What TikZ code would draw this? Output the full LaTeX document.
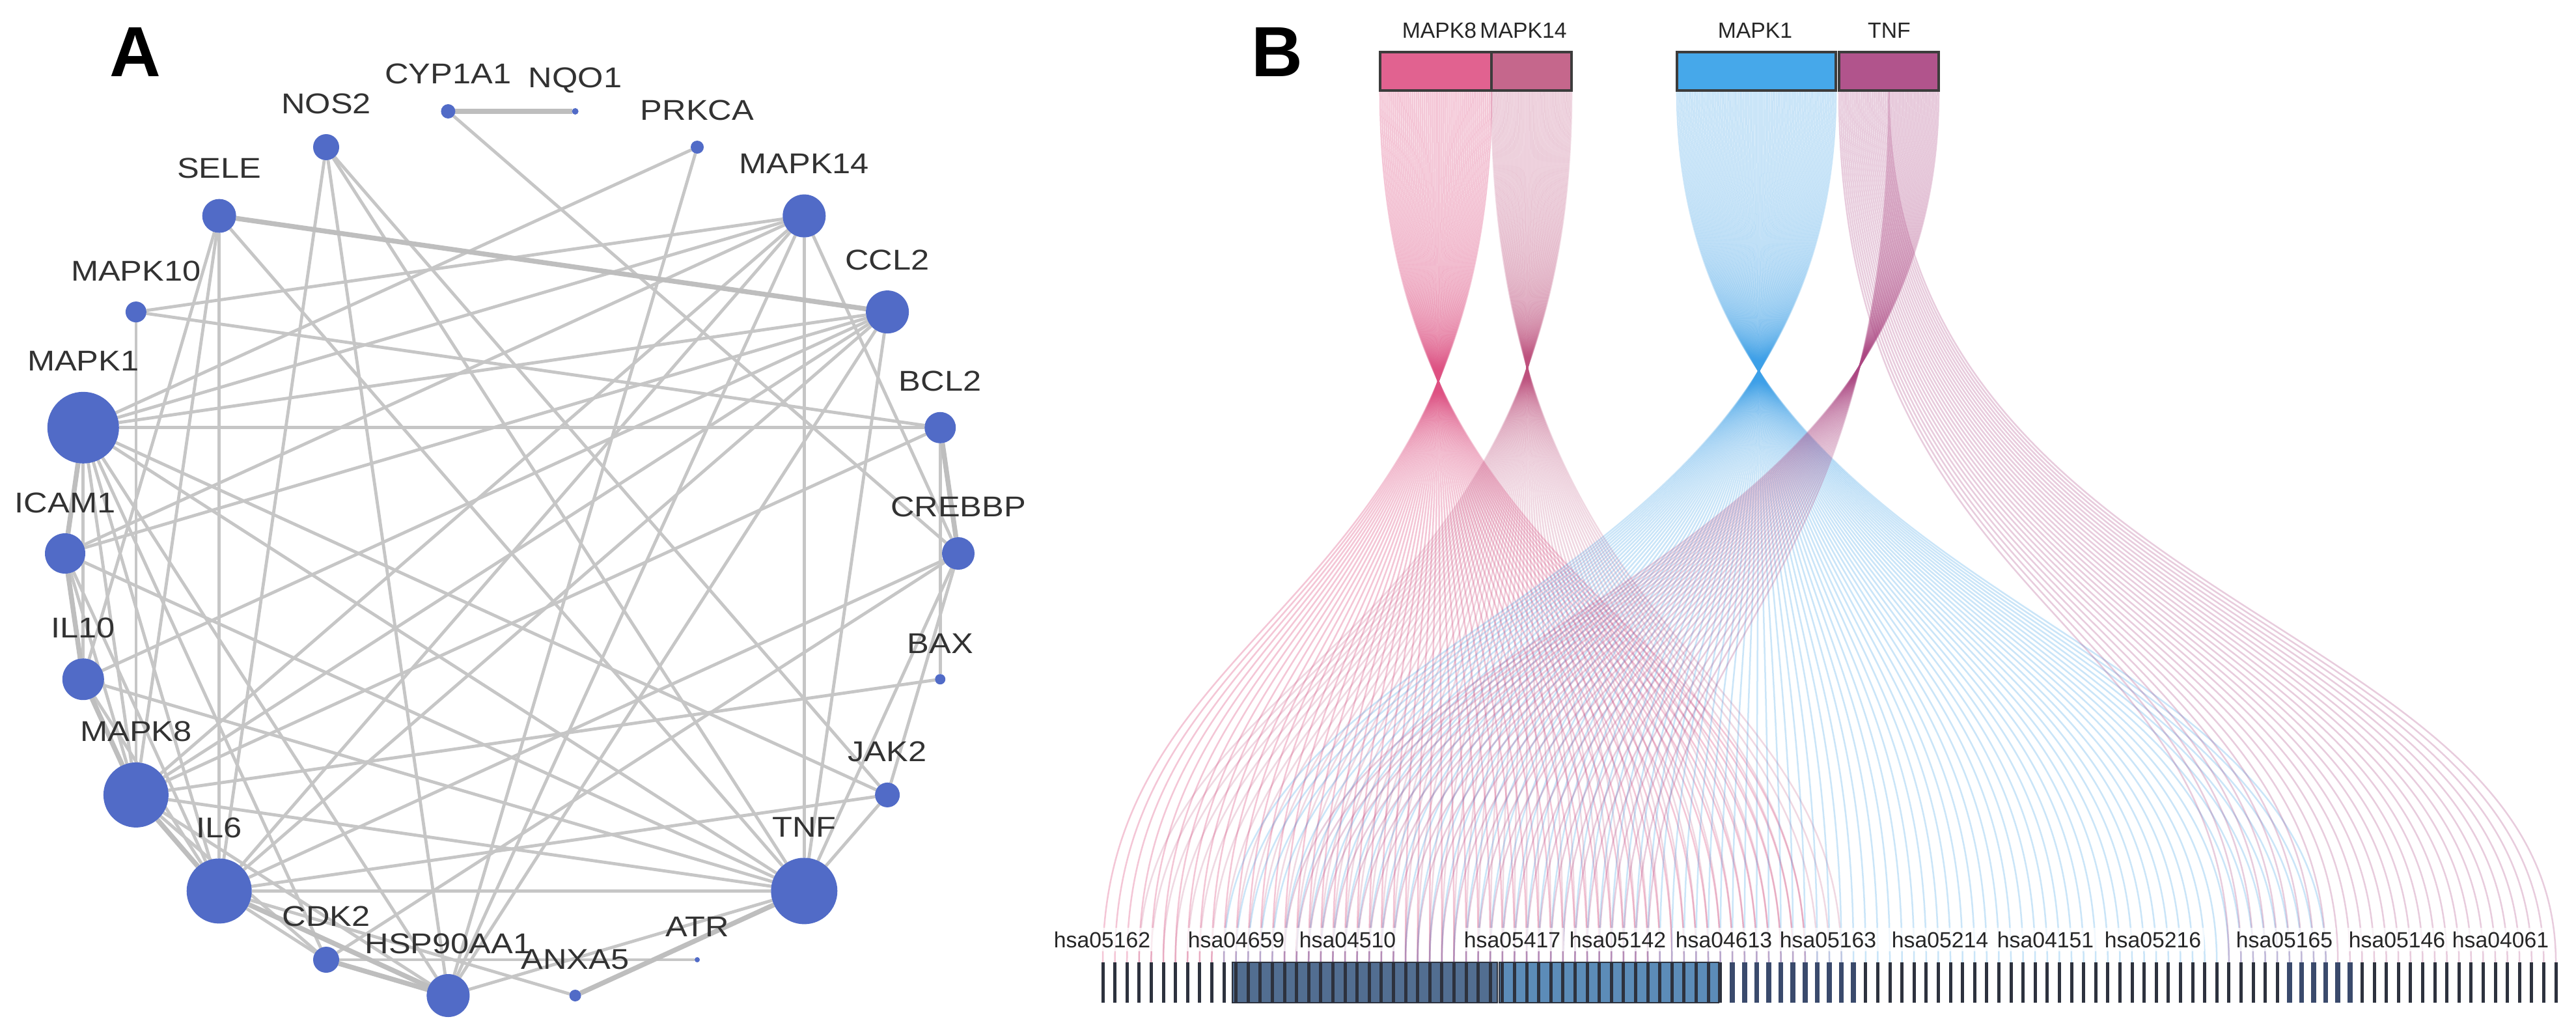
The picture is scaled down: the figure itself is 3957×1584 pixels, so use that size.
\documentclass[tikz,border=0pt]{standalone}
\usepackage{fontspec}
\setmainfont{Liberation Sans}
\usetikzlibrary{calc}
\definecolor{nodeblue}{RGB}{81,107,199}
\definecolor{edgegray}{RGB}{198,198,198}
\definecolor{labgray}{RGB}{50,50,50}
\definecolor{cEight}{RGB}{225,98,144}
\definecolor{cFourteen}{RGB}{197,103,140}
\definecolor{cOne}{RGB}{70,168,234}
\definecolor{cTnf}{RGB}{177,84,140}
\definecolor{sEight}{RGB}{222,80,130}
\definecolor{sFourteen}{RGB}{190,80,125}
\definecolor{sOne}{RGB}{60,160,232}
\definecolor{sTnf}{RGB}{172,70,130}
\definecolor{boxline}{RGB}{60,60,60}
\definecolor{barcol}{RGB}{45,50,62}
\definecolor{blockA}{RGB}{82,110,145}
\definecolor{blockB}{RGB}{92,140,184}
\definecolor{barnavy}{RGB}{58,74,108}
\pgfdeclarelayer{bg}
\pgfdeclarelayer{strand}
\pgfsetlayers{bg,strand,main}
\newcommand\mkgene[5]{%
  \node[gnode,minimum size={2*#4*0.01cm}] (#1) at (#2,#3) {};
  \node[glabel] (l#1) at (#2,{#3-#4-32}) {\scalebox{1.15}[1]{#5}};
}
\begin{document}
\begin{tikzpicture}[x=0.01cm,y=-0.01cm,
  gnode/.style={circle,fill=nodeblue,inner sep=0pt,outer sep=0pt},
  glabel/.style={anchor=base,font=\fontsize{12.5}{15}\selectfont,text=labgray,inner sep=0pt},
  edge/.style={draw=edgegray,line width=0.048cm},
  wedge/.style={draw=edgegray!96!black,line width=0.075cm},
  gbox/.style={draw=boxline,line width=0.04cm,inner sep=0pt,outer sep=0pt,minimum height=0.59cm},
  toplab/.style={anchor=base,font=\fontsize{9.6}{11}\selectfont,text=black!85,inner sep=0pt},
  hsalab/.style={anchor=base,font=\fontsize{9.6}{11}\selectfont,text=black!85,fill=white,fill opacity=0.75,text opacity=1,inner sep=1.5pt},
  panel/.style={anchor=base,font=\fontsize{31}{36}\selectfont\bfseries,text=black,inner sep=0pt},
  st8/.style={draw=sEight,draw opacity=0.32,line width=0.025cm},
  st14/.style={draw=sFourteen,draw opacity=0.22,line width=0.025cm},
  st1/.style={draw=sOne,draw opacity=0.27,line width=0.025cm},
  stT/.style={draw=sTnf,draw opacity=0.27,line width=0.025cm},
  pbar/.style={draw=barcol,line width=0.05cm},
  nbar/.style={draw=barnavy,line width=0.075cm}
]
\begin{pgfonlayer}{bg}
\fill[white] (0,0) rectangle (3957,1584);
\end{pgfonlayer}
\useasboundingbox (0,0) rectangle (3957,1584);

% ---------------- Panel A ----------------
\node[panel] (panelA) at (208,117) {A};
\mkgene{CYP}{688.4}{171.0}{11}{CYP1A1}
\mkgene{NOS}{501.0}{226.0}{20}{NOS2}
\mkgene{SELE}{336.7}{331.6}{26}{SELE}
\mkgene{MKten}{208.9}{479.1}{16}{MAPK10}
\mkgene{MKone}{127.8}{656.8}{55}{MAPK1}
\mkgene{ICAM}{100}{850}{31}{ICAM1}
\mkgene{ILten}{127.8}{1043.2}{32}{IL10}
\mkgene{MKeight}{208.9}{1220.9}{50}{MAPK8}
\mkgene{ILsix}{336.7}{1368.4}{50}{IL6}
\mkgene{CDK}{501.0}{1474.0}{20}{CDK2}
\mkgene{HSP}{688.4}{1529.0}{33}{HSP90AA1}
\mkgene{ANX}{883.6}{1529.0}{9}{ANXA5}
\mkgene{ATR}{1071.0}{1474.0}{4}{ATR}
\mkgene{TNF}{1235.3}{1368.4}{51}{TNF}
\mkgene{JAK}{1363.1}{1220.9}{19}{JAK2}
\mkgene{BAX}{1444.2}{1043.2}{8}{BAX}
\mkgene{CREB}{1472}{850}{25}{CREBBP}
\mkgene{BCL}{1444.2}{656.8}{24}{BCL2}
\mkgene{CCL}{1363.1}{479.1}{33}{CCL2}
\mkgene{MKfourteen}{1235.3}{331.6}{33}{MAPK14}
\mkgene{PRK}{1071.0}{226.0}{10}{PRKCA}
\mkgene{NQO}{883.6}{171.0}{5}{NQO1}

\begin{pgfonlayer}{bg}
\foreach \a/\b in {CYP/CREB,PRK/MKone,PRK/HSP,NOS/ILsix,NOS/HSP,NOS/TNF,NOS/JAK,
  SELE/ILsix,SELE/TNF,SELE/ILten,SELE/MKeight,MKten/MKfourteen,MKten/BCL,MKten/MKeight,
  MKone/BCL,MKone/MKfourteen,MKone/CCL,MKone/JAK,MKone/TNF,MKone/ILten,MKone/MKeight,
  MKone/ILsix,MKone/HSP,MKone/CDK,ICAM/MKeight,ICAM/ILsix,ICAM/TNF,ICAM/MKfourteen,
  ICAM/CCL,ILten/ILsix,ILten/TNF,ILten/CCL,MKeight/TNF,MKeight/BAX,MKeight/MKfourteen,
  MKeight/CCL,MKeight/HSP,MKeight/BCL,MKeight/CDK,ILsix/TNF,ILsix/JAK,ILsix/CDK,
  ILsix/CCL,ILsix/MKfourteen,ILsix/CREB,ILsix/ANX,CDK/CREB,HSP/TNF,HSP/MKfourteen,
  HSP/CCL,CDK/ATR,TNF/JAK,TNF/CREB,TNF/CCL,TNF/MKfourteen,BCL/BAX,MKfourteen/CREB,CREB/JAK}
  {\draw[edge] (\a) -- (\b);}
\foreach \a/\b in {CYP/NQO,SELE/CCL,MKone/ICAM,ICAM/ILten,ILten/MKeight,MKeight/ILsix,
  ILsix/HSP,HSP/CDK,ANX/TNF,BCL/CREB}
  {\draw[wedge] (\a) -- (\b);}
\end{pgfonlayer}

% ---------------- Panel B ----------------
\node[panel] (panelB) at (1962,117) {B};
\node[gbox,fill=cEight,minimum width=1.71cm] (bEight) at (2205.5,109.5) {};
\node[gbox,fill=cFourteen,minimum width=1.23cm] (bFourteen) at (2352.5,109.5) {};
\node[gbox,fill=cOne,minimum width=2.44cm] (bOne) at (2698,109.5) {};
\node[gbox,fill=cTnf,minimum width=1.53cm] (bTnf) at (2901.5,109.5) {};
\node[toplab] (tEight) at (2211,58) {MAPK8};
\node[toplab] (tFourteen) at (2340,58) {MAPK14};
\node[toplab] (tOne) at (2696,58) {MAPK1};
\node[toplab] (tTnf) at (2902,58) {TNF};

\coordinate (ctl) at (0,942);
\coordinate (ctlb) at (0,1010);
\foreach \j in {0,...,120}{\coordinate (bar\j) at ({1694+18.6*\j},1478);}

\begin{pgfonlayer}{strand}
\foreach \j in {0,...,58}{
  \path ($(bEight.south east)!{\j/58}!(bEight.south west)$) coordinate (s);
  \draw[st8] (s) .. controls (s |- ctl) and (bar\j |- ctl) .. (bar\j);
}
\foreach \j in {3,...,61}{
  \path ($(bFourteen.south east)!{(\j-3)/58}!(bFourteen.south west)$) coordinate (s);
  \draw[st14] (s) .. controls (s |- ctlb) and (bar\j |- ctlb) .. (bar\j);
}
\foreach \j in {10,...,101}{
  \path ($(bOne.south east)!{(\j-10)/91}!(bOne.south west)$) coordinate (s);
  \draw[st1] (s) .. controls (s |- ctl) and (bar\j |- ctl) .. (bar\j);
}
\foreach \j in {15,...,45}{
  \path ($(bTnf.south east)!{(\j-15)/60}!(bTnf.south west)$) coordinate (s);
  \draw[stT] (s) .. controls (s |- ctl) and (bar\j |- ctl) .. (bar\j);
}
\foreach \j in {93,...,120}{
  \path ($(bTnf.south west)!{(\j-93)/54}!(bTnf.south east)$) coordinate (s);
  \draw[stT] (s) .. controls (s |- ctl) and (bar\j |- ctl) .. (bar\j);
}
\end{pgfonlayer}

% bars
\fill[blockA,draw=barcol,line width=0.02cm] (1893,1478) rectangle (2300,1540);
\fill[blockB,draw=barcol,line width=0.02cm] (2303,1478) rectangle (2640,1540);
\foreach \j in {0,...,51,63,64,...,97,104,105,...,120}{\draw[pbar] (bar\j) -- ++(0,62);}
\foreach \j in {52,...,62,98,99,...,103}{\draw[nbar] (bar\j) -- ++(0,62);}

% pathway labels
\foreach \n/\x/\t in {h1/1693/hsa05162,h2/1899/hsa04659,h3/2070/hsa04510,h4/2323/hsa05417,
  h5/2485/hsa05142,h6/2648/hsa04613,h7/2808/hsa05163,h8/2980/hsa05214,h9/3142/hsa04151,
  h10/3307/hsa05216,h11/3509/hsa05165,h12/3682/hsa05146,h13/3841/hsa04061}
  {\node[hsalab] (\n) at (\x,1455) {\t};}
\end{tikzpicture}
\end{document}
